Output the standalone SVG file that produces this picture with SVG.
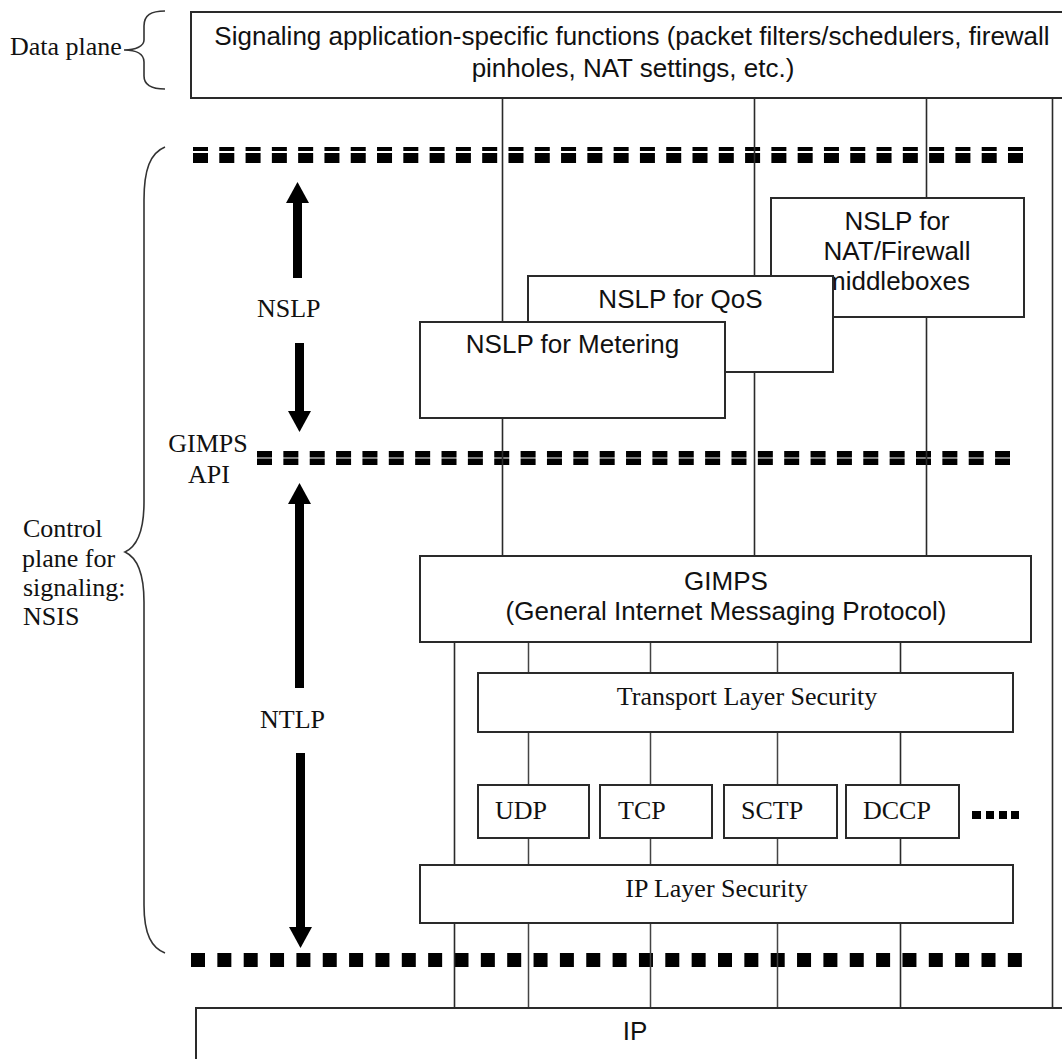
<svg xmlns="http://www.w3.org/2000/svg" width="1062" height="1059" viewBox="0 0 1062 1059">
  <defs>
    <style>
      .box { fill: #fff; stroke: #2a2a2a; stroke-width: 2; }
      .sans { font-family: "Liberation Sans", Arial, sans-serif; font-size: 26px; fill: #111; }
      .serif { font-family: "Liberation Serif", "Times New Roman", serif; font-size: 26px; fill: #111; }
      .mid { text-anchor: middle; }
      .wire { stroke: #2a2a2a; stroke-width: 1.6; fill: none; }
      .wire-lo { stroke: #444; stroke-width: 1.5; fill: none; }
      .brace { fill: none; stroke: #333; stroke-width: 1.6; }
      .shaft { stroke: #000; stroke-width: 9; fill: none; marker-end: url(#head); }
      .sep { stroke: #000; fill: none; }
    </style>
    <marker id="head" markerUnits="userSpaceOnUse" markerWidth="22" markerHeight="23" refX="0" refY="11.5" orient="auto">
      <path d="M0,0 L21,11.5 L0,23 z" fill="#000"/>
    </marker>
  </defs>

  <rect width="1062" height="1059" fill="#fff"/>

  <!-- side labels with braces -->
  <g id="data-plane-label">
    <path class="brace" d="M165,11 C151,11 144,15 144,26 L144,40 C144,46 136,50 124,50 C136,50 144,54 144,62 L144,76 C144,85 151,89 165,89"/>
    <text class="serif" x="10" y="55">Data plane</text>
  </g>
  <g id="control-plane-label">
    <path class="brace" d="M165,147 C150,153 144,170 144,200 L144,502 C144,530 138,546 125,552 C138,558 144,575 144,602 L144,905 C144,935 152,948 165,953"/>
    <text class="serif" x="23" y="537">Control</text>
    <text class="serif" x="22" y="567">plane for</text>
    <text class="serif" x="23" y="596">signaling:</text>
    <text class="serif" x="23" y="625">NSIS</text>
  </g>

  <!-- layer boundaries -->
  <g id="boundaries">
    <line class="sep" x1="193" y1="149" x2="1023" y2="149" stroke-width="4" stroke-dasharray="15 11.29"/>
    <line class="sep" x1="193" y1="158" x2="1023" y2="158" stroke-width="10" stroke-dasharray="15 11.29"/>
    <line class="sep" x1="257" y1="454.2" x2="1010" y2="454.2" stroke-width="6.5" stroke-dasharray="15 11.36"/>
    <line class="sep" x1="257" y1="461.7" x2="1010" y2="461.7" stroke-width="6.5" stroke-dasharray="15 11.36"/>
    <line class="sep" x1="191" y1="960" x2="1022" y2="960" stroke-width="14" stroke-dasharray="14 12.35"/>
  </g>

  <!-- connectors -->
  <g id="connectors">
    <line class="wire" x1="502.5" y1="98" x2="502.5" y2="556"/>
    <line class="wire" x1="754.5" y1="98" x2="754.5" y2="556"/>
    <line class="wire" x1="926.5" y1="98" x2="926.5" y2="556"/>
    <line class="wire" x1="1052.5" y1="98" x2="1052.5" y2="1008"/>
    <line class="wire" x1="454.5" y1="642" x2="454.5" y2="1008"/>
    <line class="wire-lo" x1="528.5" y1="642" x2="528.5" y2="1008"/>
    <line class="wire-lo" x1="650.5" y1="642" x2="650.5" y2="1008"/>
    <line class="wire-lo" x1="777.5" y1="642" x2="777.5" y2="1008"/>
    <line class="wire" x1="900.5" y1="642" x2="900.5" y2="1008"/>

    <line class="shaft" x1="297.5" y1="278" x2="297.5" y2="203"/>
    <line class="shaft" x1="299.5" y1="343" x2="299.5" y2="411"/>
    <line class="shaft" x1="299.5" y1="688" x2="299.5" y2="504"/>
    <line class="shaft" x1="300.5" y1="753" x2="300.5" y2="927"/>
  </g>

  <!-- layer labels -->
  <g id="layer-labels">
    <text class="serif" x="257" y="317">NSLP</text>
    <text class="serif mid" x="208" y="452">GIMPS</text>
    <text class="serif mid" x="209" y="483">API</text>
    <text class="serif" x="260" y="728">NTLP</text>
  </g>

  <!-- data plane functions -->
  <g id="app-functions">
    <rect class="box" x="191" y="12" width="900" height="86"/>
    <text class="sans mid" x="632" y="45">Signaling application-specific functions (packet filters/schedulers, firewall</text>
    <text class="sans mid" x="633" y="77">pinholes, NAT settings, etc.)</text>
  </g>

  <!-- NSLP applications -->
  <g id="nslp-nat">
    <rect class="box" x="771" y="198" width="253" height="119"/>
    <text class="sans mid" x="897" y="230">NSLP for</text>
    <text class="sans mid" x="897" y="260">NAT/Firewall</text>
    <text class="sans mid" x="897" y="290">middleboxes</text>
  </g>
  <g id="nslp-qos">
    <rect class="box" x="528" y="276" width="305" height="96"/>
    <text class="sans mid" x="680.5" y="308">NSLP for QoS</text>
  </g>
  <g id="nslp-metering">
    <rect class="box" x="420" y="322" width="305" height="96"/>
    <text class="sans mid" x="572.5" y="353">NSLP for Metering</text>
  </g>

  <!-- NTLP stack -->
  <g id="gimps">
    <rect class="box" x="420" y="556" width="611" height="86"/>
    <text class="sans mid" x="726" y="590">GIMPS</text>
    <text class="sans mid" x="726" y="620">(General Internet Messaging Protocol)</text>
  </g>
  <g id="tls">
    <rect class="box" x="478" y="673" width="535" height="59" stroke-width="2.5"/>
    <text class="serif mid" x="747" y="705">Transport Layer Security</text>
  </g>
  <g id="udp">
    <rect class="box" x="478" y="785" width="111" height="53"/>
    <text class="serif" x="495" y="819">UDP</text>
  </g>
  <g id="tcp">
    <rect class="box" x="600" y="785" width="112" height="53"/>
    <text class="serif" x="618" y="819">TCP</text>
  </g>
  <g id="sctp">
    <rect class="box" x="724" y="785" width="113" height="53"/>
    <text class="serif" x="741" y="819">SCTP</text>
  </g>
  <g id="dccp">
    <rect class="box" x="846" y="785" width="113" height="53"/>
    <text class="serif" x="863" y="819">DCCP</text>
  </g>
  <g id="more-transports" fill="#000">
    <rect x="972" y="811" width="9" height="8"/>
    <rect x="986" y="811" width="8" height="8"/>
    <rect x="999" y="811" width="8" height="8"/>
    <rect x="1011" y="811" width="8" height="8"/>
  </g>
  <g id="ipsec">
    <rect class="box" x="420" y="865" width="593" height="58" stroke-width="2.5"/>
    <text class="serif mid" x="716.5" y="897">IP Layer Security</text>
  </g>
  <g id="ip">
    <rect class="box" x="196" y="1008" width="900" height="100"/>
    <text class="sans mid" x="635" y="1040">IP</text>
  </g>
</svg>
